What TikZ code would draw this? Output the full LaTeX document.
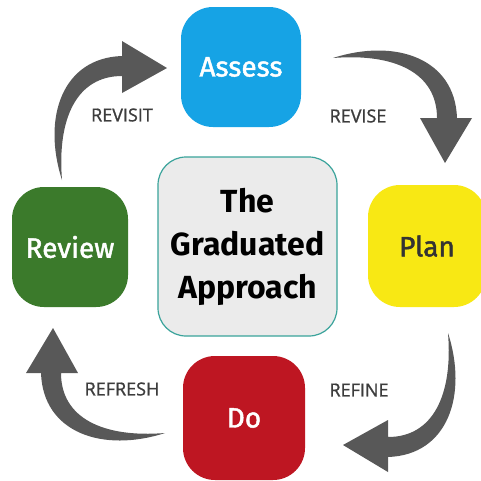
\documentclass[tikz,border=0pt]{standalone}
\usepackage{fontspec}
\setmainfont{Fira Sans}
\newfontfamily\boxfont[FakeBold=1.6]{Fira Sans}
\newfontfamily\labelfont[FakeBold=1.0]{Open Sans}
\definecolor{assessblue}{RGB}{22,163,229}
\definecolor{planyellow}{RGB}{248,232,20}
\definecolor{reviewgreen}{RGB}{59,122,43}
\definecolor{dored}{RGB}{190,22,34}
\definecolor{centerfill}{RGB}{235,235,235}
\definecolor{centerborder}{RGB}{58,163,155}
\definecolor{arrowgray}{RGB}{88,88,88}
\definecolor{labelgray}{RGB}{60,60,60}
\tikzset{
  stagebox/.style={rounded corners=32pt, inner sep=0pt, minimum width=120pt, minimum height=120pt,
    font=\boxfont\fontsize{28}{30}\selectfont},
  centerbox/.style={draw=centerborder, line width=1.2pt, fill=centerfill, rounded corners=28pt,
    inner sep=0pt, minimum width=179pt, minimum height=179pt, align=center,
    font=\fontsize{32}{43}\selectfont\bfseries},
  steplabel/.style={text=labelgray, font=\labelfont\fontsize{18}{20}\selectfont},
  bigarrow/.pic={
    \fill[arrowgray] (0,0) -- (27,-45) -- (12,-45)
      .. controls (10,-105) and (-50,-125) .. (-112,-105)
      .. controls (-50,-110) and (-8,-90) .. (-8,-45)
      -- (-25,-45) -- cycle;
  }
}
\begin{document}
\begin{tikzpicture}[x=1pt,y=-1pt]
\useasboundingbox (0,0) rectangle (481,480);
\fill[white] (0,0) rectangle (481,480);
% stage boxes
\node[stagebox, fill=assessblue, text=white] (assess) at (241,67) {Assess};
\node[stagebox, fill=planyellow, text=black!80, minimum width=118pt, minimum height=122pt] (plan) at (427,246) {Plan};
\node[stagebox, fill=reviewgreen, text=white, minimum width=116pt] (review) at (70,247) {Review};
\node[stagebox, fill=dored, text=white, minimum width=122pt, minimum height=124pt] (do) at (244,418) {Do};
% centre
\node[centerbox] (centre) at (247.5,246.5) {The\\Graduated\\Approach};
% arrows
\coordinate (tipRevise) at (445,163);
\coordinate (tipRefine) at (343,445);
\coordinate (tipRefresh) at (53,328);
\coordinate (tipRevisit) at (167,68);
\path (tipRevise) pic {bigarrow};
\path (tipRefine) pic[rotate=-90] {bigarrow};
\path (tipRefresh) pic[rotate=180] {bigarrow};
\path (tipRevisit) pic[rotate=90] {bigarrow};
% labels
\node[steplabel] (lrevise) at (358,116) {REVISE};
\node[steplabel] (lrefine) at (359,390) {REFINE};
\node[steplabel] (lrefresh) at (122,389) {REFRESH};
\node[steplabel] (lrevisit) at (122,115) {REVISIT};
\end{tikzpicture}
\end{document}
